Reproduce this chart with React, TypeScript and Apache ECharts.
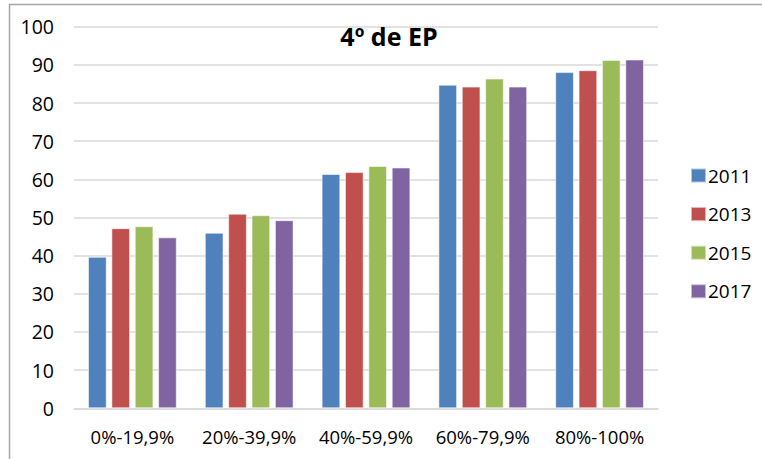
import React, { useEffect, useRef } from "react";
import * as echarts from "echarts";

const categories = ["0%-19,9%", "20%-39,9%", "40%-59,9%", "60%-79,9%", "80%-100%"];
const years = ["2011", "2013", "2015", "2017"];
const values2011 = [39.7, 46.0, 61.4, 84.8, 88.1];
const values2013 = [47.2, 51.0, 61.9, 84.3, 88.6];
const values2015 = [47.7, 50.6, 63.5, 86.4, 91.3];
const values2017 = [44.8, 49.3, 63.1, 84.3, 91.4];
const colors = ["#4F81BD", "#C0504D", "#9BBB59", "#8064A2"];
const titleText = "4º de EP";

export default function App() {
  const ref = useRef<HTMLDivElement>(null);
  useEffect(() => {
    document.body.style.margin = "0";
    if (!ref.current) return;
    const chart = echarts.init(ref.current, null, { renderer: "svg" });
    const seriesData = [values2011, values2013, values2015, values2017];
    const font = "'Open Sans', sans-serif";
    chart.setOption({
      animation: false,
      backgroundColor: "#ffffff",
      title: {
        text: titleText,
        left: 389,
        top: 23,
        padding: 0,
        textAlign: "center",
        textStyle: { fontFamily: font, fontWeight: "bold", fontSize: 25, color: "#000" },
      },
      legend: {
        orient: "vertical",
        left: 690,
        top: 165.5,
        padding: 0,
        itemWidth: 15,
        itemHeight: 14,
        itemGap: 18.6,
        icon: "rect",
        data: years,
        textStyle: { fontFamily: font, fontSize: 19, color: "#000", lineHeight: 20, padding: [0, 0, 0, -3] },
      },
      grid: { left: 74, right: 104, top: 26.7, bottom: 50.7, containLabel: false },
      xAxis: {
        type: "category",
        data: categories,
        axisLine: { show: true, lineStyle: { color: "#d9d9d9", width: 1.5 } },
        axisTick: { show: false },
        axisLabel: { fontFamily: font, fontSize: 18.5, color: "#000", margin: 19, interval: 0, hideOverlap: false },
      },
      yAxis: {
        type: "value",
        min: 0,
        max: 100,
        interval: 10,
        axisLine: { show: false },
        axisTick: { show: false },
        splitLine: { lineStyle: { color: "#d9d9d9", width: 1.5 } },
        axisLabel: { fontFamily: font, fontSize: 19.5, color: "#000", margin: 20 },
      },
      graphic: [
        {
          type: "rect",
          shape: { x: 9.5, y: 4.5, width: 900, height: 600 },
          style: { fill: "none", stroke: "#a6a6a6", lineWidth: 1.5 },
          silent: true,
        },
      ],
      series: years.map((y, i) => ({
        name: y,
        type: "bar",
        data: seriesData[i],
        barGap: "25%",
        barCategoryGap: "24%",
        itemStyle: { color: colors[i], borderColor: "rgba(255,255,255,0.55)", borderWidth: 1 },
      })),
    });
    return () => chart.dispose();
  }, []);
  return <div ref={ref} style={{ width: 762, height: 459 }} />;
}
